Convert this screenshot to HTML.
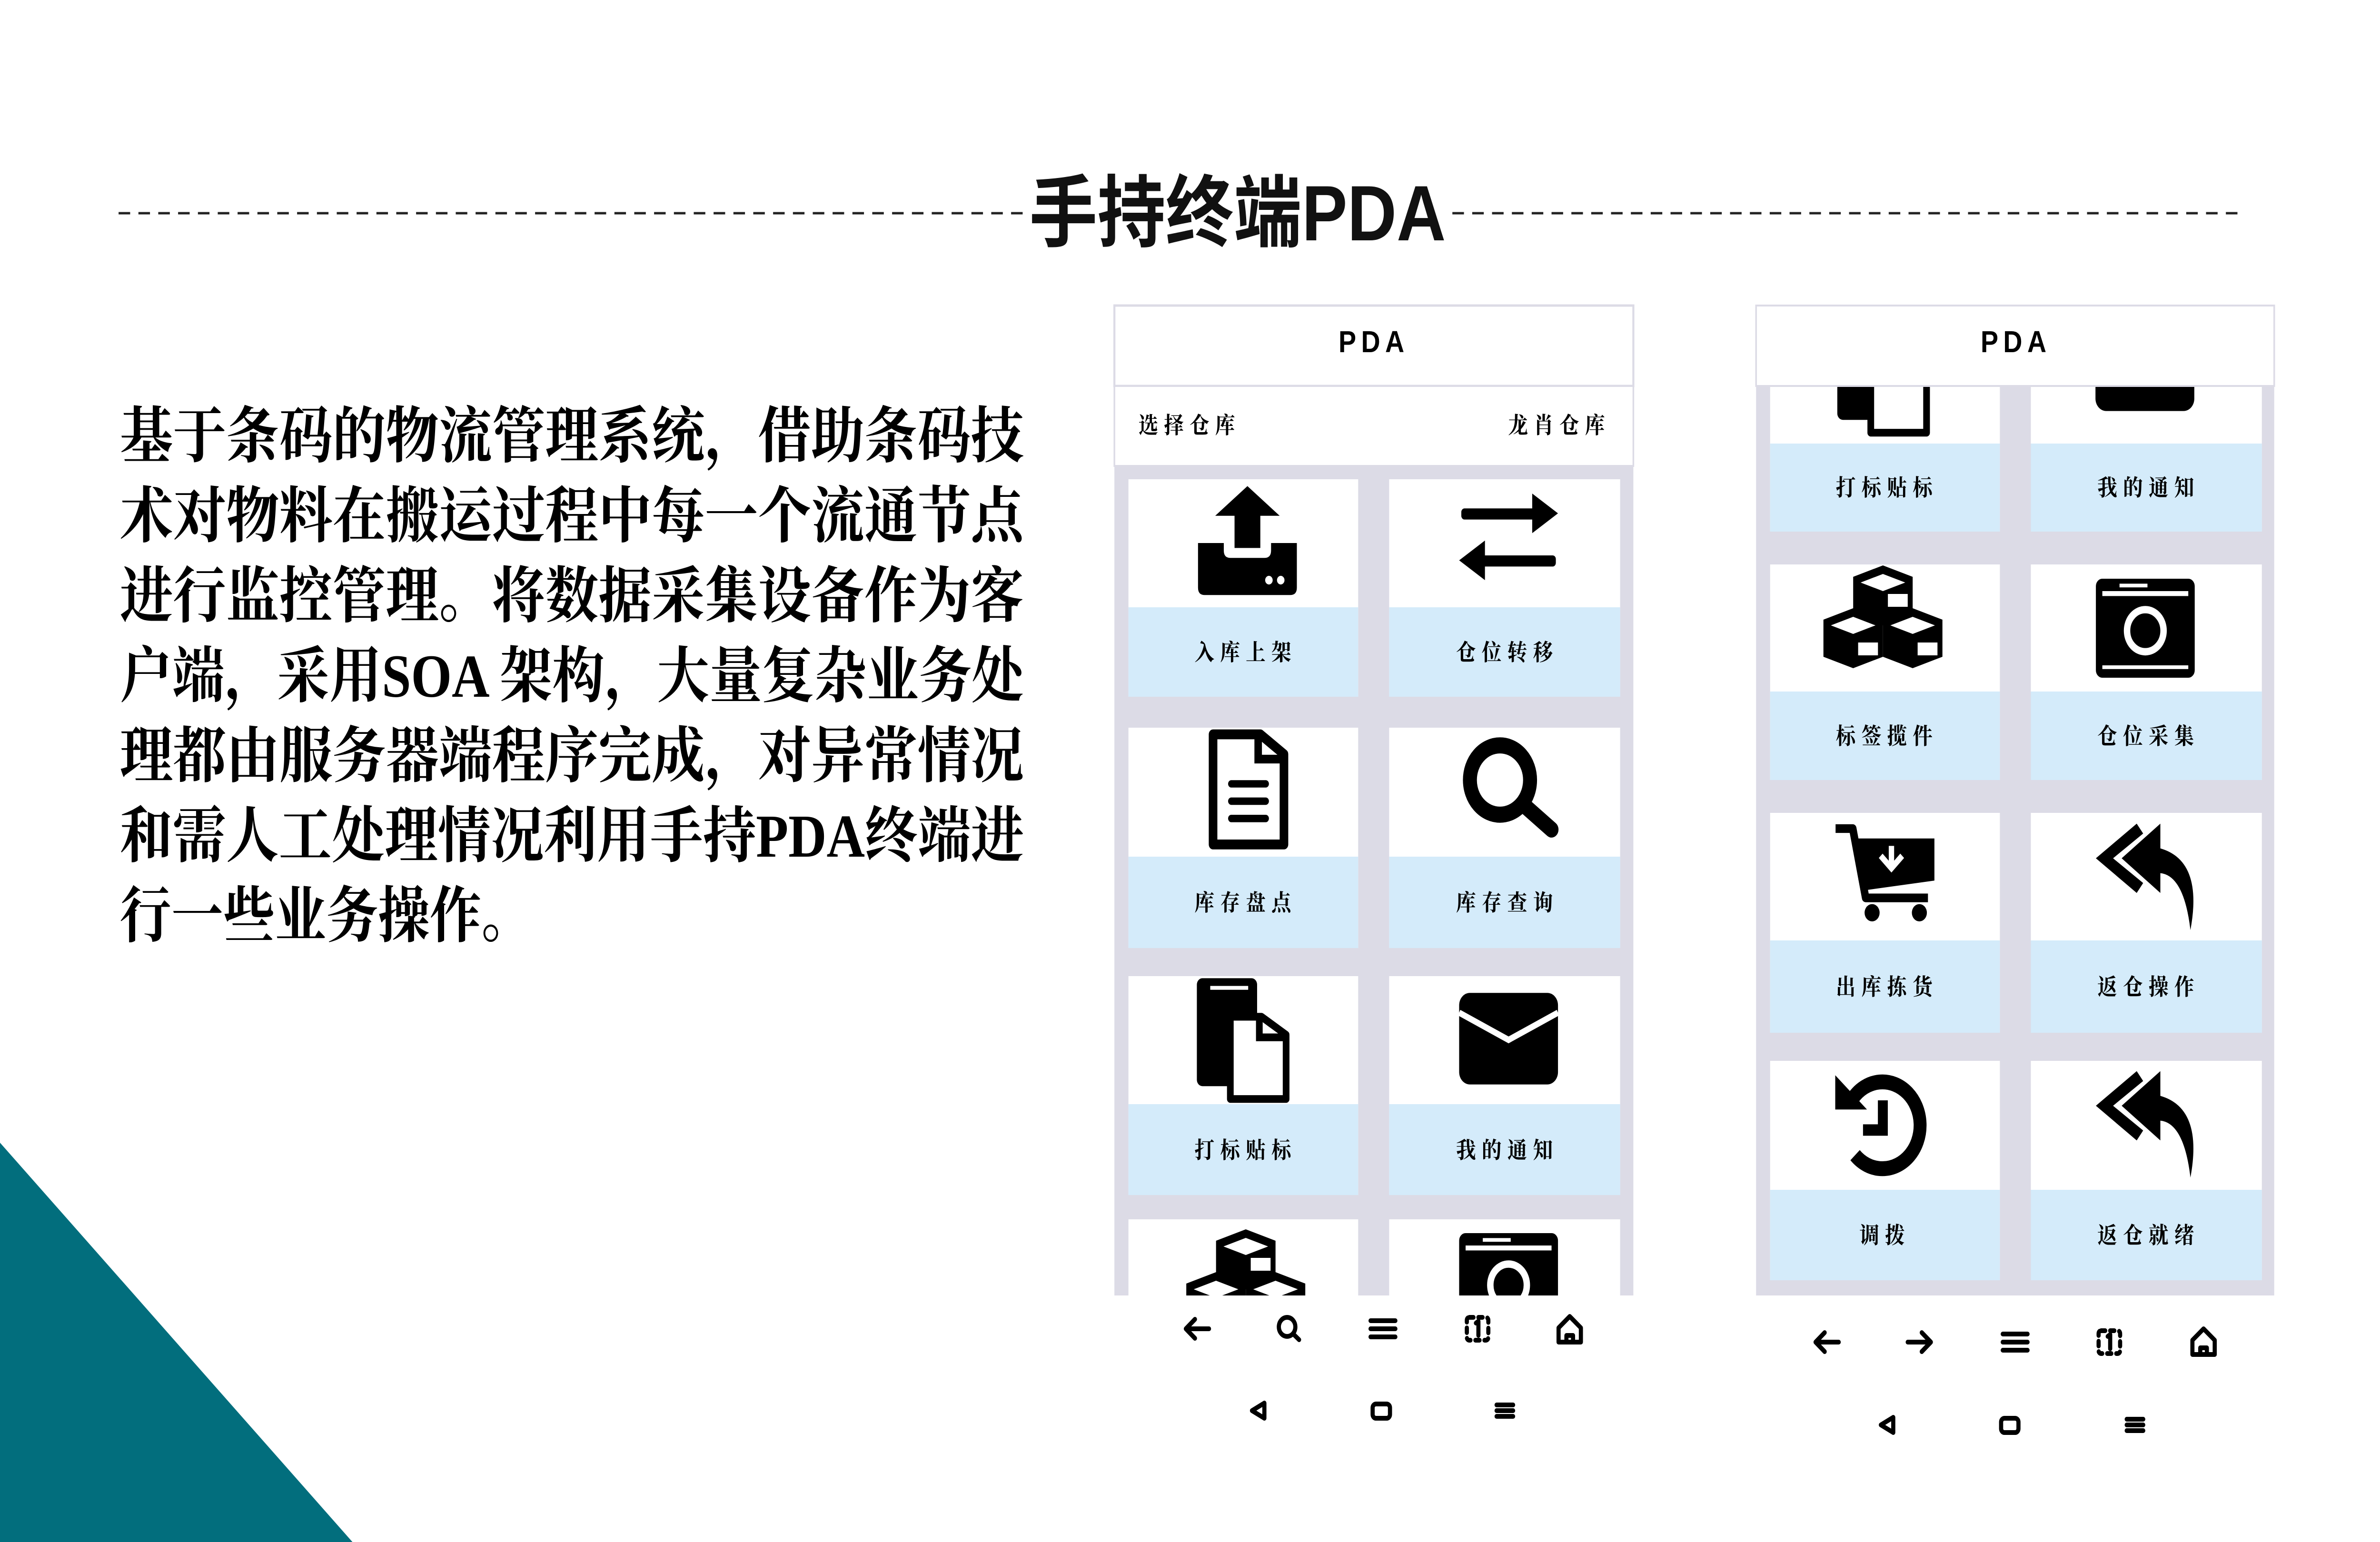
<!DOCTYPE html>
<html><head><meta charset="utf-8"><style>
html,body{margin:0;padding:0;background:#fff;width:100%;height:100%;overflow:hidden;}
svg{display:block;width:100vw;height:100vh;}
.cn{font-family:"Liberation Serif","Noto Serif CJK SC",serif;}
.lb{font-family:"Liberation Serif","Noto Serif CJK SC",serif;font-weight:700;font-size:48px;letter-spacing:14px;}
</style></head><body>
<svg viewBox="0 0 5760 3240" preserveAspectRatio="none" xmlns="http://www.w3.org/2000/svg">
<defs>
<symbol id="upload" viewBox="0 0 100 100"><path d="M50 4 L80 28 L62 28 L62 54 L38 54 L38 28 L20 28 Z"/><path d="M4 50 h24 v6 q0 6 6 6 h32 q6 0 6-6 v-6 h24 v36 q0 6-6 6 h-80 q-6 0-6-6z"/><circle cx="70" cy="80" r="3.5" fill="#fff"/><circle cx="81" cy="80" r="3.5" fill="#fff"/></symbol>
<symbol id="swap" viewBox="0 0 100 100"><rect x="6" y="22" width="74" height="9" rx="3"/><polygon points="72,10 96,26 72,42"/><rect x="20" y="60" width="74" height="9" rx="3"/><polygon points="28,48 4,64 28,80"/></symbol>
<symbol id="doc" viewBox="0 0 100 100"><path d="M18 5 h44 l22 16 v73 h-66z" fill="none" stroke="#000" stroke-width="8" stroke-linejoin="round"/><path d="M60 5 v20 h24" fill="none" stroke="#000" stroke-width="7"/><rect x="32" y="42" width="38" height="6" rx="3"/><rect x="32" y="56" width="38" height="6" rx="3"/><rect x="32" y="70" width="38" height="6" rx="3"/></symbol>
<symbol id="search" viewBox="0 0 100 100"><circle cx="42" cy="40" r="28" fill="none" stroke="#000" stroke-width="13"/><line x1="64" y1="60" x2="90" y2="80" stroke="#000" stroke-width="13" stroke-linecap="round"/></symbol>
<symbol id="copy" viewBox="0 0 100 100"><rect x="8" y="2" width="54" height="84" rx="5"/><rect x="20" y="8" width="34" height="3" fill="#fff"/><path d="M38 32 h28 l22 14 v50 h-50z" fill="#fff" stroke="#000" stroke-width="6" stroke-linejoin="round"/><path d="M64 32 v16 h24" fill="none" stroke="#000" stroke-width="6"/></symbol>
<symbol id="mail" viewBox="0 0 100 100"><rect x="4" y="12" width="92" height="74" rx="10"/><polyline points="4,28 50,50 96,28" fill="none" stroke="#fff" stroke-width="5"/></symbol>
<symbol id="cubes" viewBox="0 0 100 100"><path d="M26 14 L50 6 L74 14 L74 40 L50 48 L26 40Z"/><path d="M2 44 L26 36 L50 44 L50 70 L26 78 L2 70Z"/><path d="M50 44 L74 36 L98 44 L98 70 L74 78 L50 70Z"/><path d="M32 18 L50 12 L68 18 L50 24Z" fill="#fff"/><rect x="54" y="26" width="16" height="9" fill="#fff"/><path d="M8 48 L26 42 L44 48 L26 54Z" fill="#fff"/><rect x="30" y="60" width="16" height="9" fill="#fff"/><path d="M56 48 L74 42 L92 48 L74 54Z" fill="#fff"/><rect x="78" y="60" width="16" height="9" fill="#fff"/></symbol>
<symbol id="camera" viewBox="0 0 100 100"><rect x="4" y="10" width="92" height="80" rx="6"/><rect x="10" y="20" width="80" height="4" fill="#fff"/><rect x="26" y="14" width="26" height="3" fill="#fff"/><circle cx="50" cy="52" r="17" fill="none" stroke="#fff" stroke-width="6"/><rect x="10" y="80" width="80" height="3" fill="#fff"/></symbol>
<symbol id="cart" viewBox="0 0 100 100"><path d="M4 10 h16 l12 56 h58" fill="none" stroke="#000" stroke-width="7" stroke-linejoin="round"/><path d="M22 18 h74 v34 l-66 8z"/><path d="M56 24 v16 M46 32 l10 10 l10-10" fill="none" stroke="#fff" stroke-width="5"/><circle cx="38" cy="78" r="7"/><circle cx="82" cy="78" r="7"/></symbol>
<symbol id="reply" viewBox="0 0 100 100"><path d="M42 6 L4 34 L42 62 L48 54 L20 34 L48 14Z"/><path d="M64 6 L28 34 L64 62 L64 46 Q86 48 92 92 Q104 36 64 26Z"/></symbol>
<symbol id="hist" viewBox="0 0 100 100"><path d="M22 28 A38 38 0 1 1 24 78" fill="none" stroke="#000" stroke-width="13"/><polygon points="4,8 4,38 36,38"/><polyline points="52,30 52,56 32,56" fill="none" stroke="#000" stroke-width="10"/></symbol>
<clipPath id="c1"><rect x="2697" y="979" width="1256" height="1743"/></clipPath>
<clipPath id="c2"><rect x="4250" y="811" width="1254" height="1911"/></clipPath>
</defs>

<polygon points="0,2401 853,3240 0,3240" fill="#026e7d"/>

<line x1="287" y1="448" x2="2475" y2="448" stroke="#222" stroke-width="5" stroke-dasharray="28,20"/>
<line x1="3515" y1="448" x2="5425" y2="448" stroke="#222" stroke-width="5" stroke-dasharray="28,20"/>
<text x="2995" y="505" text-anchor="middle" font-family="Liberation Sans,'Noto Sans CJK SC',sans-serif" font-weight="700" font-size="165" fill="#111">手持终端PDA</text>

<g class="cn" font-size="128" fill="#000" font-weight="700">
<text x="290" y="960" textLength="2188" lengthAdjust="spacingAndGlyphs">基于条码的物流管理系统，借助条码技</text>
<text x="290" y="1128" textLength="2188" lengthAdjust="spacingAndGlyphs">术对物料在搬运过程中每一个流通节点</text>
<text x="290" y="1296" textLength="2188" lengthAdjust="spacingAndGlyphs">进行监控管理。将数据采集设备作为客</text>
<text x="290" y="1464" textLength="2188" lengthAdjust="spacingAndGlyphs">户端，采用SOA 架构，大量复杂业务处</text>
<text x="290" y="1632" textLength="2188" lengthAdjust="spacingAndGlyphs">理都由服务器端程序完成，对异常情况</text>
<text x="290" y="1800" textLength="2188" lengthAdjust="spacingAndGlyphs">和需人工处理情况利用手持PDA终端进</text>
<text x="290" y="1968" textLength="1000" lengthAdjust="spacingAndGlyphs">行一些业务操作。</text>
</g>

<!-- PHONE 1 -->
<rect x="2697" y="642" width="1256" height="169" fill="#fff" stroke="#dcdbe6" stroke-width="5"/>
<text x="3325" y="740" text-anchor="middle" font-family="Liberation Sans,sans-serif" font-weight="700" font-size="64" letter-spacing="12">PDA</text>
<rect x="2697" y="811" width="1256" height="168" fill="#fff" stroke="#dcdbe6" stroke-width="4"/>
<text x="2755" y="910" class="lb" font-size="52">选择仓库</text>
<text x="3650" y="910" class="lb" font-size="52">龙肖仓库</text>
<rect x="2697" y="979" width="1256" height="1743" fill="#dcdbe6"/>
<g clip-path="url(#c1)">
<g fill="#d4ebfa">
<rect x="2731" y="1007" width="556" height="457" fill="#fff"/><rect x="2731" y="1276" width="556" height="188"/>
<rect x="3362" y="1007" width="559" height="457" fill="#fff"/><rect x="3362" y="1276" width="559" height="188"/>
<rect x="2731" y="1529" width="556" height="463" fill="#fff"/><rect x="2731" y="1800" width="556" height="192"/>
<rect x="3362" y="1529" width="559" height="463" fill="#fff"/><rect x="3362" y="1800" width="559" height="192"/>
<rect x="2731" y="2051" width="556" height="460" fill="#fff"/><rect x="2731" y="2320" width="556" height="191"/>
<rect x="3362" y="2051" width="559" height="460" fill="#fff"/><rect x="3362" y="2320" width="559" height="191"/>
<rect x="2731" y="2562" width="556" height="300" fill="#fff"/>
<rect x="3362" y="2562" width="559" height="300" fill="#fff"/>
</g>
<use href="#upload" x="2889" y="1011" width="260" height="260"/>
<use href="#swap" x="3521" y="1011" width="260" height="260"/>
<use href="#doc" x="2889" y="1530" width="260" height="260"/>
<use href="#search" x="3521" y="1535" width="260" height="260"/>
<use href="#copy" x="2875" y="2050" width="270" height="270"/>
<use href="#mail" x="3521" y="2055" width="260" height="260"/>
<use href="#cubes" x="2865" y="2565" width="300" height="300"/>
<use href="#camera" x="3521" y="2565" width="260" height="260"/>
</g>
<g class="lb" text-anchor="middle">
<text x="3015" y="1387">入库上架</text><text x="3648" y="1387">仓位转移</text>
<text x="3015" y="1913">库存盘点</text><text x="3648" y="1913">库存查询</text>
<text x="3015" y="2433">打标贴标</text><text x="3648" y="2433">我的通知</text>
</g>
<g stroke="#000" stroke-width="10" fill="none" stroke-linecap="round" stroke-linejoin="round">
<path d="M2926 2792 h-56 M2892 2772 l-22 20 l22 20"/>
<circle cx="3115" cy="2788" r="20"/><path d="M3130 2803 l14 12"/>
<path d="M3317 2775 h60 M3317 2792 h60 M3317 2809 h60"/>
<rect x="3550" y="2768" width="52" height="48" rx="6" stroke-dasharray="10,12"/><path d="M3572 2780 l6-4 v30"/>
<path d="M3772 2820 v-30 l27-24 l27 24 v30 z M3791 2820 v-14 h16 v14"/>
<path d="M3060 2948 l-30 16 l30 16 z"/>
<rect x="3322" y="2950" width="42" height="30" rx="8"/>
<path d="M3622 2952 h40 M3622 2964 h40 M3622 2976 h40"/>
</g>

<!-- PHONE 2 -->
<rect x="4250" y="811" width="1254" height="1911" fill="#dcdbe6"/>
<g clip-path="url(#c2)">
<g fill="#d4ebfa">
<rect x="4284" y="700" width="556" height="417" fill="#fff"/><rect x="4284" y="932" width="556" height="185"/>
<rect x="4915" y="700" width="559" height="417" fill="#fff"/><rect x="4915" y="932" width="559" height="185"/>
<rect x="4284" y="1186" width="556" height="453" fill="#fff"/><rect x="4284" y="1453" width="556" height="186"/>
<rect x="4915" y="1186" width="559" height="453" fill="#fff"/><rect x="4915" y="1453" width="559" height="186"/>
<rect x="4284" y="1708" width="556" height="462" fill="#fff"/><rect x="4284" y="1976" width="556" height="194"/>
<rect x="4915" y="1708" width="559" height="462" fill="#fff"/><rect x="4915" y="1976" width="559" height="194"/>
<rect x="4284" y="2229" width="556" height="461" fill="#fff"/><rect x="4284" y="2500" width="556" height="190"/>
<rect x="4915" y="2229" width="559" height="461" fill="#fff"/><rect x="4915" y="2500" width="559" height="190"/>
</g>
<use href="#copy" x="4425" y="650" width="270" height="270"/>
<use href="#mail" x="5061" y="640" width="260" height="260"/>
<use href="#cubes" x="4392" y="1170" width="330" height="300"/>
<use href="#camera" x="5062" y="1190" width="260" height="260"/>
<use href="#cart" x="4432" y="1715" width="260" height="260"/>
<use href="#reply" x="5062" y="1715" width="260" height="260"/>
<use href="#hist" x="4432" y="2240" width="240" height="240"/>
<use href="#reply" x="5062" y="2235" width="260" height="260"/>
</g>
<rect x="4250" y="642" width="1254" height="169" fill="#fff" stroke="#dcdbe6" stroke-width="4"/>
<text x="4879" y="740" text-anchor="middle" font-family="Liberation Sans,sans-serif" font-weight="700" font-size="64" letter-spacing="12">PDA</text>
<g class="lb" text-anchor="middle">
<text x="4567" y="1041">打标贴标</text><text x="5200" y="1041">我的通知</text>
<text x="4567" y="1563">标签揽件</text><text x="5200" y="1563">仓位采集</text>
<text x="4567" y="2090">出库拣货</text><text x="5200" y="2090">返仓操作</text>
<text x="4562" y="2612">调拨</text><text x="5200" y="2612">返仓就绪</text>
</g>
<g stroke="#000" stroke-width="10" fill="none" stroke-linecap="round" stroke-linejoin="round">
<path d="M4450 2820 h-56 M4416 2800 l-22 20 l22 20"/>
<path d="M4617 2820 h56 M4651 2800 l22 20 l-22 20"/>
<path d="M4847 2803 h60 M4847 2820 h60 M4847 2837 h60"/>
<rect x="5079" y="2796" width="52" height="48" rx="6" stroke-dasharray="10,12"/><path d="M5101 2808 l6-4 v30"/>
<path d="M5306 2846 v-30 l27-24 l27 24 v30 z M5325 2846 v-14 h16 v14"/>
<path d="M4582 2978 l-30 16 l30 16 z"/>
<rect x="4843" y="2980" width="42" height="30" rx="8"/>
<path d="M5147 2982 h40 M5147 2994 h40 M5147 3006 h40"/>
</g>
</svg>
</body></html>
